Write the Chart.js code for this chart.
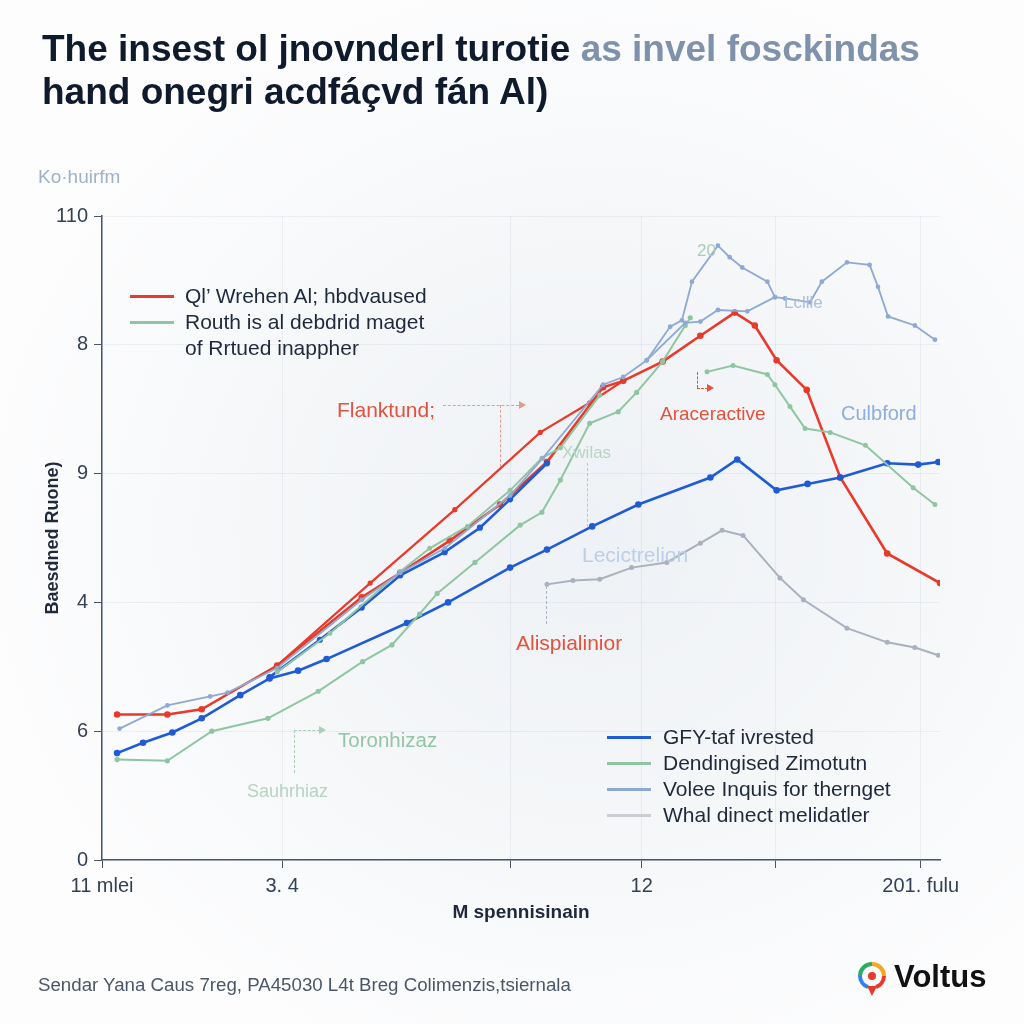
<!DOCTYPE html>
<html>
<head>
<meta charset="utf-8">
<script src="https://cdn.jsdelivr.net/npm/chart.js@4.4.1/dist/chart.umd.min.js"></script>
<style>
  html, body { margin: 0; padding: 0; }
  body {
    width: 1024px; height: 1024px; position: relative; overflow: hidden;
    font-family: "Liberation Sans", Arial, sans-serif;
    background: radial-gradient(ellipse 60% 55% at 58% 52%, #eef1f5 0%, #f5f7f9 55%, #fdfdfe 100%);
  }
  #wrap { position: absolute; left: 0; top: 0; width: 1024px; height: 1024px; }
  .t { position: absolute; white-space: nowrap; }
  .title { left: 42px; font-size: 37px; font-weight: bold; color: #0f1b2d; letter-spacing: 0; }
  .title .soft { color: #7f92ab; }
  .lg { position: absolute; white-space: nowrap; font-size: 21px; color: #1e293b; line-height: 26px; }
  .lg .row { position: relative; height: 26px; }
  .lg .sw { position: absolute; top: 12px; height: 2.5px; width: 44px; }
  .note { position: absolute; white-space: nowrap; font-size: 20px; line-height: 22px; }
  .dash { position: absolute; border-color: currentColor; border-style: dashed; border-width: 0; }
  .arrow { position: absolute; width: 0; height: 0; border-top: 4px solid transparent; border-bottom: 4px solid transparent; border-left: 7px solid currentColor; }
</style>
</head>
<body>
<div id="wrap"><canvas id="lineChart"></canvas></div>

<div class="t title" style="top:28px;">The insest ol jnovnderl turotie <span class="soft">as invel fosckindas</span></div>
<div class="t title" style="top:71px;">hand onegri acdfáçvd fán Al)</div>
<div class="t" style="left:38px; top:166px; font-size:19px; color:#9db1c7;">Ko·huirfm</div>

<div class="lg" id="legendTop" style="left:130px; top:283px;"></div>
<div class="lg" id="legendBottom" style="left:607px; top:724px;"></div>

<!-- callouts -->
<div class="note" style="left:337px; top:399px; font-size:21px; color:#e4513d;">Flanktund;</div>
<div class="dash" style="left:443px; top:405px; width:76px; border-top-width:1px; color:#e99a90;"></div>
<div class="arrow" style="left:519px; top:401px; color:#e99a90;"></div>
<div class="dash" style="left:500px; top:405px; height:62px; border-left-width:1px; color:#e99a90;"></div>

<div class="note" style="left:660px; top:403px; font-size:19px; color:#e4513d;">Araceractive</div>
<div class="dash" style="left:697px; top:372px; height:16px; border-left-width:1px; color:#e4513d;"></div>
<div class="dash" style="left:697px; top:388px; width:11px; border-top-width:1px; color:#e4513d;"></div>
<div class="arrow" style="left:707px; top:384px; color:#e4513d;"></div>

<div class="note" style="left:841px; top:402px; color:#8eaedb;">Culbford</div>
<div class="note" style="left:784px; top:292px; font-size:17px; color:#a9bfdc;">Lcllle</div>
<div class="note" style="left:697px; top:240px; font-size:17px; color:#a8cdb6;">20</div>

<div class="note" style="left:562px; top:442px; font-size:17px; color:#b7d4c4;">Xwilas</div>
<div class="dash" style="left:587px; top:463px; height:64px; border-left-width:1px; color:#b7c6d8;"></div>

<div class="note" style="left:582px; top:544px; font-size:21px; color:#bccfe7;">Lecictrelion</div>

<div class="note" style="left:516px; top:632px; font-size:21px; color:#e4513d;">Alispialinior</div>
<div class="dash" style="left:546px; top:586px; height:38px; border-left-width:1px; color:#aab3c0;"></div>

<div class="note" style="left:338px; top:729px; font-size:20.5px; color:#93c6a7;">Toronhizaz</div>
<div class="dash" style="left:294px; top:730px; height:43px; border-left-width:1px; color:#a9cfb7;"></div>
<div class="dash" style="left:294px; top:730px; width:26px; border-top-width:1px; color:#a9cfb7;"></div>
<div class="arrow" style="left:319px; top:726px; color:#a9cfb7;"></div>
<div class="note" style="left:247px; top:780px; font-size:18px; color:#b7d3c1;">Sauhrhiaz</div>

<div class="t" style="left:38px; top:974px; font-size:18.7px; color:#4b5667;">Sendar Yana Caus 7reg, PA45030 L4t Breg Colimenzis,tsiernala</div>
<div class="t" style="left:857px; top:962px;">
  <svg width="30" height="36" viewBox="0 0 30 36">
    <path d="M15 2 A12 12 0 0 1 27 14" stroke="#f5a623" stroke-width="4" fill="none"/>
    <path d="M27 14 A12 12 0 0 1 19 25" stroke="#e8392a" stroke-width="4" fill="none"/>
    <path d="M11 25 A12 12 0 0 1 3 14" stroke="#2f80ed" stroke-width="4" fill="none"/>
    <path d="M3 14 A12 12 0 0 1 15 2" stroke="#27ae60" stroke-width="4" fill="none"/>
    <path d="M15 34 L10 24 L20 24 Z" fill="#e8392a"/>
    <circle cx="15" cy="14" r="4" fill="#e8392a"/>
  </svg>
</div>
<div class="t" style="left:894px; top:959px; font-size:31px; font-weight:bold; color:#111;">Voltus</div>

<script>
// axis ticks (y ticks are evenly spaced but carry these labels)
const yTickLabels = ['0', '6', '4', '9', '8', '110'];
const xTickValues = [0, 21.5, 48.7, 64.4, 80.4, 97.7];
const xTickLabels = ['11 mlei', '3. 4', '', '12', '', '201. fulu'];

// series, [x, y]
const redMain = [[1.8,1.13],[7.8,1.13],[11.9,1.17],[20.9,1.51],[31.0,2.04],[35.6,2.23],[41.5,2.48],[47.5,2.76],[53.1,3.09],[59.8,3.67],[62.2,3.72],[66.9,3.87],[71.4,4.07],[75.5,4.25],[77.9,4.15],[80.5,3.88],[84.1,3.65],[88.1,2.97],[93.7,2.38],[100,2.15]];
const redUpper = [[20.9,1.51],[32.0,2.15],[42.1,2.72],[52.3,3.32],[58.2,3.55],[62.2,3.72]];
const blueMain = [[1.8,0.83],[4.9,0.91],[8.4,0.99],[11.9,1.10],[16.5,1.28],[20.0,1.41],[23.4,1.47],[26.8,1.56],[36.4,1.84],[41.3,2.00],[48.7,2.27],[53.1,2.41],[58.5,2.59],[64.0,2.76],[72.6,2.97],[75.8,3.11],[80.5,2.87],[84.2,2.92],[88.1,2.97],[93.7,3.08],[97.4,3.07],[99.8,3.09]];
const blueUpper = [[20.0,1.42],[26.0,1.71],[31.0,1.96],[35.6,2.21],[40.9,2.39],[45.1,2.58],[48.7,2.80],[53.1,3.08]];
const greenLower = [[1.8,0.78],[7.8,0.77],[13.1,1.00],[19.8,1.10],[25.8,1.31],[31.1,1.54],[34.6,1.67],[37.9,1.91],[40.0,2.07],[44.5,2.31],[49.9,2.60],[52.5,2.70],[54.7,2.95],[58.2,3.39],[61.6,3.48],[63.8,3.63],[66.9,3.87],[69.6,4.15],[70.2,4.21]];
const greenUpper = [[20.9,1.46],[27.2,1.76],[35.6,2.24],[39.1,2.42],[43.6,2.59],[48.7,2.87],[52.5,3.12],[54.7,3.20],[59.4,3.61]];
const greenRight = [[72.2,3.79],[75.3,3.84],[79.4,3.77],[80.3,3.69],[82.1,3.52],[83.9,3.35],[86.9,3.32],[91.1,3.22],[96.8,2.89],[99.4,2.76]];
const steelMain = [[2.1,1.02],[7.8,1.20],[12.9,1.27],[15.0,1.30],[20.9,1.49],[31.0,2.02],[35.6,2.23],[40.9,2.42],[48.7,2.83],[52.6,3.12],[59.8,3.69],[62.2,3.75],[65.0,3.88],[67.8,4.14],[69.2,4.19],[70.4,4.49],[73.5,4.77],[74.9,4.68],[76.4,4.60],[79.4,4.49],[80.3,4.37],[81.5,4.36],[84.5,4.33],[85.9,4.49],[88.9,4.64],[91.6,4.62],[92.6,4.45],[93.8,4.22],[97.0,4.15],[99.4,4.04]];
const steelInner = [[65.0,3.88],[69.6,4.17],[71.4,4.18],[73.5,4.27],[77.0,4.26],[80.3,4.37]];
const grayLower = [[53.1,2.14],[56.2,2.17],[59.4,2.18],[63.2,2.27],[67.4,2.31],[71.4,2.46],[74.0,2.56],[76.5,2.52],[80.9,2.19],[83.7,2.02],[88.9,1.80],[93.7,1.69],[97.0,1.65],[99.8,1.59]];

const RED = '#e8392a', BLUE = '#1f5bd6', GREEN = '#8fc6a2', STEEL = '#8eaad2', GRAY = '#a9b1be', LIGHTGRAY = '#c9cdd4';

const legendTopLabels = ['Ql\u2019 Wrehen Al; hbdvaused', 'Routh is al debdrid maget', 'of Rrtued inappher'];
const legendTopColors = [RED, GREEN, null];
const legendBottomLabels = ['GFY-taf ivrested', 'Dendingised Zimotutn', 'Volee Inquis for thernget', 'Whal dinect melidatler'];
const legendBottomColors = [BLUE, GREEN, STEEL, LIGHTGRAY];

function buildLegend(id, labels, colors) {
  const box = document.getElementById(id);
  labels.forEach((txt, i) => {
    const row = document.createElement('div');
    row.className = 'row';
    if (colors[i]) {
      const sw = document.createElement('div');
      sw.className = 'sw';
      sw.style.left = '0px';
      sw.style.background = colors[i];
      row.appendChild(sw);
    }
    const s = document.createElement('span');
    s.textContent = txt;
    s.style.marginLeft = (id === 'legendTop' ? 55 : 56) + 'px';
    row.appendChild(s);
    box.appendChild(row);
  });
}
buildLegend('legendTop', legendTopLabels, legendTopColors);
buildLegend('legendBottom', legendBottomLabels, legendBottomColors);

function line(data, color, width, radius) {
  return {
    data: data,
    borderColor: color,
    backgroundColor: color,
    pointBackgroundColor: color,
    pointBorderColor: color,
    borderWidth: width,
    pointRadius: radius,
    tension: 0,
    fill: false
  };
}

const ctx = document.getElementById('lineChart');
new Chart(ctx, {
  type: 'line',
  data: {
    datasets: [
      line(grayLower, GRAY, 2, 1.5),
      line(steelMain, STEEL, 1.8, 1.5),
      line(steelInner, STEEL, 1.8, 1.5),
      line(greenLower, GREEN, 2, 1.6),
      line(greenUpper, GREEN, 2, 1.5),
      line(greenRight, GREEN, 2, 1.5),
      line(blueMain, BLUE, 2.6, 2),
      line(blueUpper, BLUE, 2.6, 1.8),
      line(redUpper, RED, 2.2, 1.5),
      line(redMain, RED, 2.6, 2)
    ]
  },
  options: {
    responsive: true,
    maintainAspectRatio: false,
    animation: false,
    devicePixelRatio: 1,
    layout: { padding: { left: 42, top: 216, right: 84, bottom: 100 } },
    plugins: { legend: { display: false }, tooltip: { enabled: false } },
    scales: {
      x: {
        type: 'linear',
        min: 0,
        max: 100,
        afterBuildTicks: (scale) => { scale.ticks = xTickValues.map(v => ({ value: v })); },
        afterFit: (scale) => { scale.height = 64; },
        ticks: {
          autoSkip: false,
          maxRotation: 0,
          color: '#334155',
          font: { size: 20, family: '"Liberation Sans", Arial, sans-serif' },
          padding: 6,
          callback: (v, i) => xTickLabels[i]
        },
        grid: { color: 'rgba(148,163,184,0.13)', tickColor: '#475569', tickLength: 8 },
        border: { color: '#4a5568', width: 1.5 },
        title: {
          display: true,
          text: 'M spennisinain',
          color: '#1e293b',
          font: { size: 19, weight: 'bold', family: '"Liberation Sans", Arial, sans-serif' },
          padding: { top: 4, bottom: 0 }
        }
      },
      y: {
        min: 0,
        max: 5,
        afterFit: (scale) => { scale.width = 60; },
        ticks: {
          stepSize: 1,
          color: '#334155',
          font: { size: 20, family: '"Liberation Sans", Arial, sans-serif' },
          padding: 6,
          callback: (v, i) => yTickLabels[i]
        },
        grid: { color: 'rgba(148,163,184,0.13)', tickColor: '#475569', tickLength: 8 },
        border: { color: '#4a5568', width: 1.5 },
        title: {
          display: true,
          text: 'Baesdned Ruone)',
          color: '#1e293b',
          font: { size: 18, weight: 'bold', family: '"Liberation Sans", Arial, sans-serif' },
          padding: { top: 0, bottom: 0 }
        }
      }
    }
  }
});
</script>
</body>
</html>
